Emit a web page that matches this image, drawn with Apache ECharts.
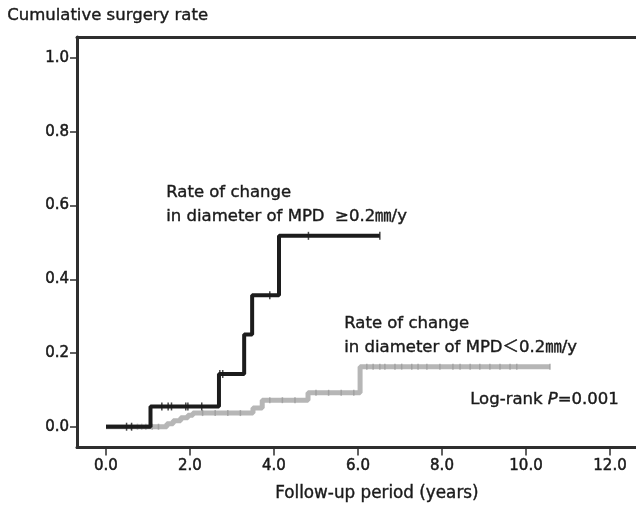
<!DOCTYPE html>
<html>
<head>
<meta charset="utf-8">
<script src="https://cdn.jsdelivr.net/npm/echarts@6/dist/echarts.min.js"></script>
<style>
html,body{margin:0;padding:0;background:#fff;}
#chart{width:636px;height:507px;}
</style>
</head>
<body>
<div id="chart"></div>
<script>
// ---- data ----
const xTicks = [0, 2, 4, 6, 8, 10, 12];
const yTicks = [0, 0.2, 0.4, 0.6, 0.8, 1.0];

const highTimes = [0, 1.06, 2.69, 3.29, 3.48, 4.12, 6.52];
const highRates = [0, 0.055, 0.143, 0.25, 0.357, 0.518, 0.518];
const highCensor = [0.49, 0.61, 1.33, 1.48, 1.56, 1.90, 1.95, 2.28, 2.71, 2.78, 3.90, 4.82, 6.52];

const lowTimes = [0, 1.45, 1.6, 1.78, 1.95, 2.07, 3.5, 3.72, 4.81, 6.05, 10.57];
const lowRates = [0, 0.008, 0.016, 0.024, 0.031, 0.037, 0.051, 0.072, 0.092, 0.163, 0.163];
const lowCensor = [0.6, 0.75, 0.85, 0.95, 1.1, 1.25, 2.3, 2.6, 2.9, 3.2, 3.9, 4.2, 4.5, 5.0, 5.3, 5.6, 5.9,
  6.21, 6.36, 6.52, 6.64, 6.88, 7.04, 7.28, 7.43, 7.64, 7.95, 8.26, 8.43, 8.67, 8.90, 9.14, 9.38, 9.62, 9.78, 10.57];

const yTitle = 'Cumulative surgery rate';
const xTitle = 'Follow-up period (years)';
const highLabel = ['Rate of change', 'in diameter of MPD  \u22650.2\u339C/y'];
const lowLabel = ['Rate of change', 'in diameter of MPD\uFF1C0.2\u339C/y'];
const pLabel = 'Log-rank ';
const pValue = '=0.001';

// ---- helpers ----
function pairs(t, v) { return t.map((x, i) => [x, v[i]]); }
function stepValue(t, v, x) {
  let r = v[0];
  for (let i = 0; i < t.length; i++) if (t[i] <= x) r = v[i];
  return r;
}
function censorPts(ct, t, v) { return ct.map(x => [x, stepValue(t, v, x)]); }

const FONT = '"DejaVu Sans", "Noto Sans CJK JP", sans-serif';
const AX = '#2e2e2e';
const TXT = '#1a1a1a';
const thick = { textBorderColor: TXT, textBorderWidth: 0.5 };

const chart = echarts.init(document.getElementById('chart'), null, { renderer: 'canvas' });

const xMin = -0.69, xMax = 13.095;
const yMin = -0.0564, yMax = 1.0575;

function gtext(left, top, text, extra) {
  return { type: 'text', left: left, top: top,
    style: Object.assign({ text: text, font: '16.5px ' + FONT, fill: TXT, stroke: TXT, lineWidth: 0.4 }, extra || {}) };
}

chart.setOption({
  animation: false,
  backgroundColor: '#fff',
  grid: { left: 77, right: -20, top: 37, bottom: 59.5, containLabel: false, outerBoundsMode: 'none' },
  xAxis: [{
    type: 'value', min: xMin, max: xMax, position: 'bottom',
    axisLine: { show: true, onZero: false, lineStyle: { color: AX, width: 3 } },
    axisTick: { show: true, customValues: xTicks, length: 8, lineStyle: { color: AX, width: 1.5 } },
    axisLabel: Object.assign({ customValues: xTicks, formatter: v => v.toFixed(1), fontFamily: FONT, fontSize: 15, color: TXT, margin: 11 }, thick),
    splitLine: { show: false }
  }, {
    type: 'value', min: xMin, max: xMax, position: 'top',
    axisLine: { show: true, onZero: false, lineStyle: { color: AX, width: 3 } },
    axisTick: { show: false }, axisLabel: { show: false }, splitLine: { show: false }
  }],
  yAxis: {
    type: 'value', min: yMin, max: yMax,
    axisLine: { show: true, onZero: false, lineStyle: { color: AX, width: 3 } },
    axisTick: { show: true, customValues: yTicks, length: 7, lineStyle: { color: AX, width: 1.5 } },
    axisLabel: Object.assign({ customValues: yTicks, formatter: v => v.toFixed(1), fontFamily: FONT, fontSize: 15, color: TXT, margin: 8 }, thick),
    splitLine: { show: false }
  },
  series: [
    {
      type: 'line', step: 'end', data: pairs(lowTimes, lowRates), showSymbol: false, z: 2,
      lineStyle: { color: '#b6b6b6', width: 5 }
    },
    {
      type: 'scatter', data: censorPts(lowCensor, lowTimes, lowRates), symbol: 'rect', symbolSize: [1.5, 6], z: 3,
      itemStyle: { color: '#9c9c9c' }
    },
    {
      type: 'line', step: 'end', data: pairs(highTimes, highRates), showSymbol: false, z: 4,
      lineStyle: { color: '#1c1c1c', width: 4 }
    },
    {
      type: 'scatter', data: censorPts(highCensor, highTimes, highRates), symbol: 'rect', symbolSize: [1.5, 8], z: 5,
      itemStyle: { color: '#1c1c1c' }
    }
  ],
  graphic: [
    gtext(7, 7, yTitle),
    gtext(275, 485, xTitle, { font: '16.8px ' + FONT }),
    gtext(166, 180, highLabel.join('\n'), { lineHeight: 24.5 }),
    gtext(344, 312, lowLabel.join('\n'), { lineHeight: 24 }),
    gtext(470, 391, pLabel + '{i|P}' + pValue, {
      rich: { i: { fontStyle: 'italic', fontFamily: FONT, fontSize: 16.5, fill: TXT } }
    })
  ]
});
</script>
</body>
</html>
